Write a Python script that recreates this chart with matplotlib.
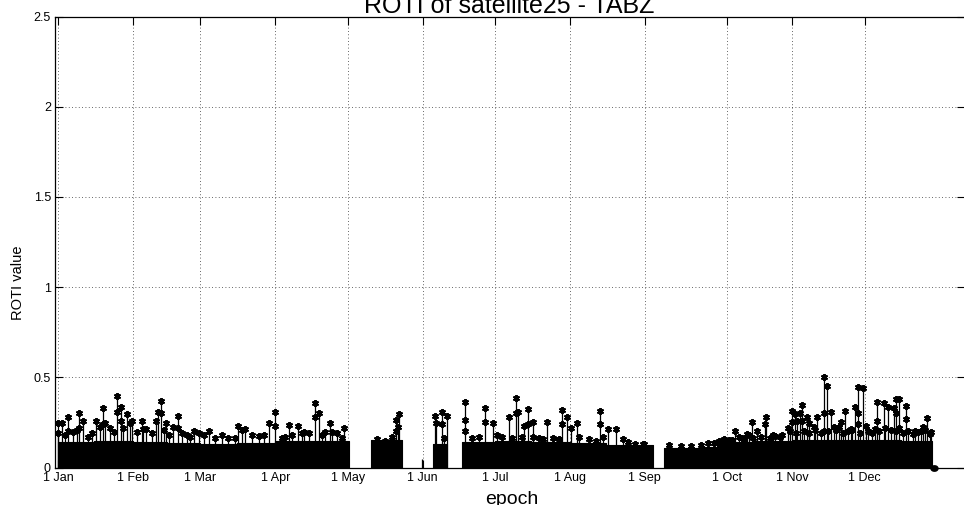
import matplotlib
matplotlib.use("Agg")
import matplotlib.pyplot as plt
from matplotlib.ticker import FixedLocator, FixedFormatter

plt.rcParams['font.family'] = ['Liberation Sans', 'DejaVu Sans']

# ---------------- data (day of year, 0 = 1 Jan) ----------------
title_text = "ROTI of satellite25 - TABZ"
x_label = "epoch"
y_label = "ROTI value"

month_labels = ['1 Jan', '1 Feb', '1 Mar', '1 Apr', '1 May', '1 Jun',
                '1 Jul', '1 Aug', '1 Sep', '1 Oct', '1 Nov', '1 Dec']
month_tick_days = [0, 31, 59, 90, 120, 151, 181, 212, 243, 277, 304, 334]

y_ticks = [0, 0.5, 1, 1.5, 2, 2.5]
y_tick_labels = ['0', '0.5', '1', '1.5', '2', '2.5']

# dense body of the ROTI values (solid black band): blocks of observed days
band_start = [0, 15, 31, 45, 59, 74, 90, 105, 129.8, 155.3, 167.4, 181, 196,
              212, 227, 251.1, 266, 273, 288, 304, 319, 334, 349]
band_end = [15, 31, 45, 59, 74, 90, 105, 120.4, 142.6, 161.2, 181, 196, 212,
            227, 246.2, 266, 273, 288, 304, 319, 334, 349, 362.1]
band_level = [0.14, 0.145, 0.14, 0.135, 0.13, 0.135, 0.145, 0.145, 0.15, 0.13,
              0.14, 0.145, 0.14, 0.135, 0.125, 0.11, 0.115, 0.14, 0.145, 0.155,
              0.155, 0.15, 0.145]

# prominent spikes
spike_days = [0.2, 1.8, 4.3, 8.8, 10.5, 15.8, 18.8, 19.5, 24.6, 25.9, 28.5, 30.8,
              34.7, 36.4, 40.6, 41.5, 42.7, 44.7, 47.6, 49.6, 56.5, 62.4, 74.5,
              77.6, 87.2, 89.7, 95.5, 99.4, 101.1, 106.6, 108.0, 110.5, 112.8,
              115.6, 118.6,
              140.1, 140.8, 141.4,
              156.0, 156.6, 159.1, 161.1,
              168.5, 176.8, 180.3, 186.8, 189.8, 190.5, 193.0, 194.8, 196.9,
              202.3, 208.6, 210.7, 212.6, 214.9, 224.5, 227.6, 231.0,
              280.5, 283.3, 285.4, 287.3, 289.3, 292.6, 293.1, 296.0, 298.8,
              302.2, 304.0, 305.0, 306.1, 307.4, 308.2, 310.1, 311.2, 312.9,
              314.3, 317.4, 318.3, 320.0, 321.2, 323.4, 324.3, 326.1, 328.2,
              330.2, 331.3, 333.2, 334.4, 338.2, 339.3, 341.9, 343.8, 346.0,
              347.2, 348.3, 351.3, 355.0, 358.2, 360.0, 361.4]
spike_vals = [0.245, 0.245, 0.282, 0.304, 0.26, 0.26, 0.328, 0.245, 0.396, 0.337,
              0.297, 0.26, 0.26, 0.212, 0.26, 0.31, 0.371, 0.249, 0.223, 0.285,
              0.204, 0.204, 0.23, 0.212, 0.245, 0.31, 0.236, 0.23, 0.193, 0.356,
              0.304, 0.199, 0.249, 0.189, 0.219,
              0.263, 0.226, 0.295,
              0.287, 0.245, 0.31, 0.287,
              0.361, 0.332, 0.245, 0.278, 0.387, 0.306, 0.23, 0.322, 0.254,
              0.254, 0.319, 0.278, 0.217, 0.249, 0.313, 0.212, 0.212,
              0.204, 0.162, 0.186, 0.254, 0.204, 0.241, 0.282, 0.18, 0.171,
              0.217, 0.315, 0.296, 0.259, 0.304, 0.346, 0.282, 0.245, 0.226,
              0.278, 0.5, 0.454, 0.306, 0.226, 0.226, 0.254, 0.315, 0.212,
              0.333, 0.444, 0.443, 0.23, 0.212, 0.361, 0.356, 0.337, 0.328,
              0.378, 0.38, 0.341, 0.204, 0.223, 0.273, 0.199]

# intermediate samples seen on the flanks of some spikes
flank_days = [4.3, 8.8, 18.8, 24.6, 25.9, 42.7, 49.6, 89.7, 106.6, 140.1, 159.1,
              168.5, 168.5, 176.8, 189.8, 194.8, 208.6, 224.5, 304.0, 308.2,
              317.4, 317.4, 331.3, 331.3, 339.3, 347.2, 348.3, 351.3]
flank_vals = [0.2, 0.22, 0.24, 0.31, 0.26, 0.3, 0.22, 0.23, 0.28, 0.2, 0.24,
              0.263, 0.2, 0.25, 0.3, 0.24, 0.24, 0.24, 0.25, 0.26,
              0.3, 0.2, 0.3, 0.24, 0.26, 0.3, 0.22, 0.27]

# smaller peaks forming the ragged top of the band
minor_days = [0.1, 2.9, 6.4, 7.7, 12.6, 14.0, 17.4, 21.6, 23.0, 27.1, 29.9, 32.6,
              35.4, 38.8, 43.7, 45.8, 51.3, 53.4, 54.7, 58.2, 60.3, 65.1, 67.9,
              70.6, 73.4, 76.2, 80.3, 83.1, 85.2, 92.8, 94.2, 96.9, 101.8, 103.8,
              109.4, 113.5, 117.7,
              132.2, 135.6, 138.4, 160.0,
              171.6, 174.4, 182.0, 184.0, 188.2, 192.3, 196.5, 199.2, 200.9,
              204.8, 207.5, 215.8, 219.7, 222.7, 225.5, 234.1, 235.9, 239.0,
              242.1, 242.5,
              253.1, 258.0, 262.1, 266.3, 269.0, 271.8, 273.9, 278.0,
              276.0, 279.0, 282.0, 284.0, 286.0, 288.0, 291.0, 295.0, 297.0,
              300.0, 303.0, 305.5, 309.0, 311.0, 313.5, 316.0, 319.0, 322.0,
              325.0, 327.0, 329.0, 332.0, 335.5, 337.0, 340.0, 342.5, 345.0,
              347.0, 350.0, 352.0, 354.0, 356.0, 357.5, 359.0, 361.0]
minor_vals = [0.193, 0.18, 0.199, 0.208, 0.171, 0.189, 0.226, 0.217, 0.199, 0.217,
              0.245, 0.199, 0.212, 0.189, 0.208, 0.18, 0.189, 0.18, 0.171, 0.189,
              0.18, 0.162, 0.18, 0.162, 0.162, 0.208, 0.18, 0.175, 0.18, 0.162,
              0.171, 0.18, 0.199, 0.189, 0.18, 0.199, 0.162,
              0.156, 0.149, 0.171, 0.162,
              0.162, 0.171, 0.18, 0.171, 0.162, 0.171, 0.171, 0.162, 0.156,
              0.162, 0.156, 0.171, 0.158, 0.149, 0.171, 0.156, 0.143, 0.13,
              0.13, 0.13,
              0.125, 0.119, 0.119, 0.125, 0.134, 0.138, 0.149, 0.152,
              0.16, 0.15, 0.17, 0.16, 0.18, 0.165, 0.17, 0.165, 0.175,
              0.18, 0.2, 0.19, 0.2, 0.19, 0.21, 0.19, 0.2, 0.21,
              0.19, 0.2, 0.21, 0.19, 0.2, 0.19, 0.2, 0.22, 0.21,
              0.2, 0.19, 0.2, 0.185, 0.195, 0.2, 0.21, 0.185]

# isolated short sample on 1 Jun and the zero-valued samples at the end
lone_days = [150.8]
lone_vals = [0.045]
zero_days = [362.4, 362.8, 363.2]
zero_vals = [0.0, 0.0, 0.0]

# ---------------- figure ----------------
fig = plt.figure(figsize=(9.64, 5.05), dpi=100)
ax = fig.add_axes([55 / 964, 37.5 / 505, 910 / 964, 451 / 505])

for s, e, lvl in zip(band_start, band_end, band_level):
    ax.fill_between([s, e], 0, [lvl, lvl], color='black', lw=0.8,
                    edgecolor='black', zorder=3)

star = (6, 2, 0)
ax.vlines(minor_days, 0, minor_vals, colors='black', lw=0.9, zorder=3)
ax.plot(minor_days, minor_vals, ls='none', marker=star, ms=5, mew=1.4,
        color='black', zorder=4)

ax.vlines(spike_days, 0, spike_vals, colors='black', lw=0.9, zorder=3)
ax.plot(spike_days, spike_vals, ls='none', marker=star, ms=5, mew=1.4,
        color='black', zorder=4)
ax.plot(flank_days, flank_vals, ls='none', marker=star, ms=5, mew=1.4,
        color='black', zorder=4)

ax.vlines(lone_days, 0, lone_vals, colors='black', lw=0.9, zorder=3)
ax.plot(zero_days, zero_vals, '-', marker='o', ms=3.5, lw=2, color='black',
        zorder=4, clip_on=False)

ax.set_xlim(-1.24, 375.6)
ax.set_ylim(0, 2.5)

ax.xaxis.set_major_locator(FixedLocator(month_tick_days))
ax.xaxis.set_major_formatter(FixedFormatter(month_labels))
ax.yaxis.set_major_locator(FixedLocator(y_ticks))
ax.yaxis.set_major_formatter(FixedFormatter(y_tick_labels))

ax.tick_params(direction='in', length=6, width=0.8, top=True, right=True,
               labelsize=9, colors='black')
ax.tick_params(axis='x', pad=3)
ax.tick_params(axis='y', pad=3)

ax.grid(True, linestyle=(0, (1, 3)), color='black', lw=0.6, alpha=0.8)
ax.set_axisbelow(True)
for sp in ax.spines.values():
    sp.set_color('black')
    sp.set_linewidth(0.9)

fig.text(509 / 964, 1 - 13.3 / 505, title_text, ha='center', va='baseline',
         fontsize=18)
fig.text(512 / 964, 1 - 503.5 / 505, x_label, ha='center', va='baseline',
         fontsize=14)
fig.text(18 / 964, 1 - 283 / 505, y_label, ha='center', va='center',
         rotation=90, fontsize=10.5)

fig.savefig('out.png', dpi=100, facecolor='white')
